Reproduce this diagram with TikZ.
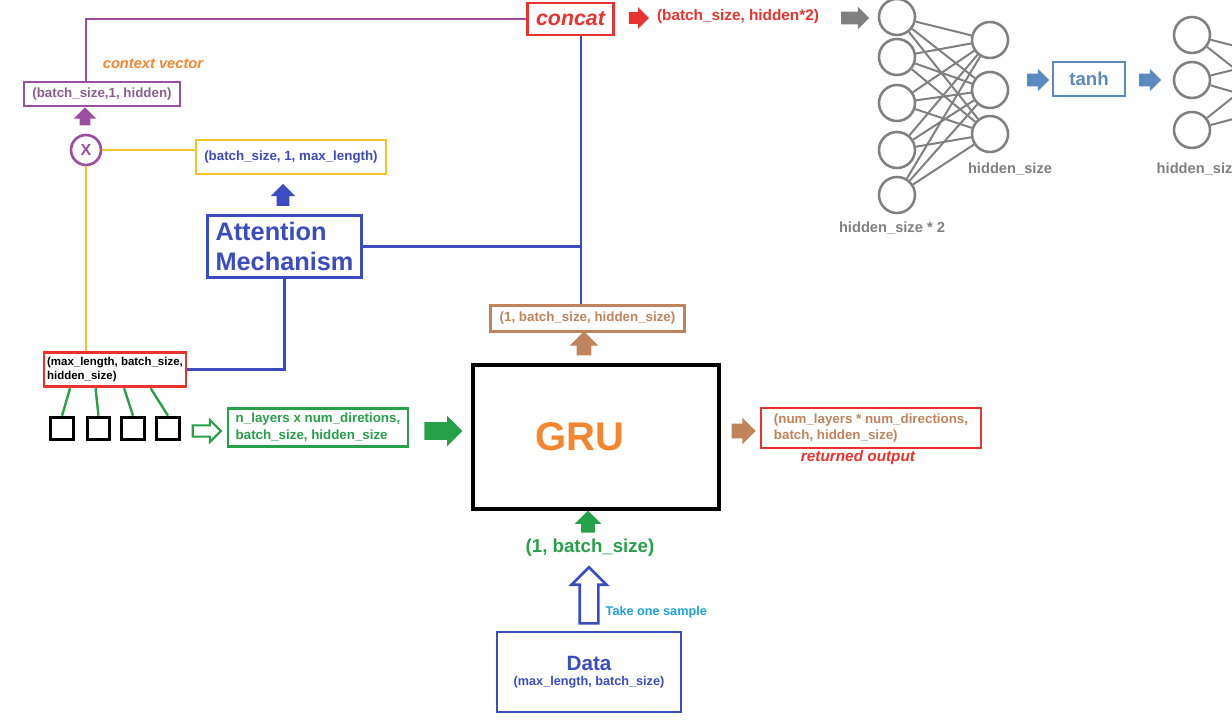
\documentclass[tikz,border=0pt]{standalone}
\usepackage{fontspec}
\setmainfont{Liberation Sans}
\usetikzlibrary{positioning,shapes.arrows,calc}

\definecolor{red1}{HTML}{E8332E}
\definecolor{purp}{HTML}{9C4F9F}
\definecolor{purptxt}{HTML}{8B5E8F}
\definecolor{gold}{HTML}{F5C22A}
\definecolor{blu}{HTML}{3B4CC0}
\definecolor{grn}{HTML}{27A04A}
\definecolor{brn}{HTML}{C0845C}
\definecolor{org}{HTML}{F5862E}
\definecolor{netgray}{HTML}{808080}
\definecolor{steel}{HTML}{5B8AC0}
\definecolor{sky}{HTML}{1EA0E0}

\begin{document}
\begin{tikzpicture}[x=0.75pt, y=-0.75pt,
    box/.style={draw=#1, line width=2.2pt, fill=white, inner sep=0pt},
    lbl/.style={text=#1, font=\bfseries\fontsize{10}{12}\selectfont},
    ar/.style n args={4}{single arrow, draw=none, fill=#1, inner sep=#3,
        minimum height=#2, single arrow head extend=#4},
    neu/.style={circle, draw=netgray, line width=1.9pt, minimum size=27pt, inner sep=0pt},
    wire/.style={draw=#1, line width=1.8pt},
    syn/.style={draw=netgray, line width=1.5pt}]

    \path[use as bounding box, fill=white] (0,0) rectangle (1232,720);
    \clip (0,0) rectangle (1232,720);

    % top row
    \node[box=red1, minimum width=65pt, minimum height=24pt, text=red1,
        font=\bfseries\itshape\fontsize{16}{18}\selectfont] (concat) at (570.5,19) {concat};
    \node[ar={red1}{15pt}{4.25pt}{3.75pt}] (a1) at (636,18) {};
    \node[lbl=red1, font=\bfseries\fontsize{11.5}{13}\selectfont] (h2) at (738,17) {(batch\_size, hidden*2)};
    \node[ar={netgray}{21pt}{4.5pt}{3.75pt}] (a2) at (852,18) {};

    % network
    \foreach \y [count=\i] in {17,57,103,150,195}
        \node[neu] (p\i) at (897,\y) {};
    \foreach \y [count=\i] in {40,90,134}
        \node[neu] (q\i) at (990,\y) {};
    \foreach \i in {1,...,5}
        \foreach \j in {1,2,3}
            \draw[syn] (p\i) -- (q\j);
    \node[lbl=netgray, font=\bfseries\fontsize{11}{13}\selectfont] (nq) at (1010,169) {hidden\_size};
    \node[lbl=netgray, font=\bfseries\fontsize{11}{13}\selectfont] (np) at (892,228) {hidden\_size * 2};

    \node[ar={steel}{16.5pt}{4.5pt}{3.75pt}] (a3) at (1035,80) {};
    \node[box=steel, minimum width=54pt, minimum height=25.5pt, text=steel,
        font=\bfseries\fontsize{14}{16}\selectfont] (tanh) at (1089,79) {tanh};
    \node[ar={steel}{16.5pt}{4.5pt}{3.75pt}] (a4) at (1147,80) {};

    \foreach \y [count=\i] in {35,80,130}
        \node[neu] (r\i) at (1192,\y) {};
    \coordinate (s1) at (1282,58);
    \coordinate (s2) at (1282,106);
    \foreach \i in {1,2,3}
        \foreach \j in {1,2}
            \draw[syn] (r\i) -- (s\j);
    \node[lbl=netgray, font=\bfseries\fontsize{11}{13}\selectfont, anchor=west] (nr) at (1152,169) {hidden\_size};

    % context / attention
    \node[box=purp, minimum width=117pt, minimum height=18pt, lbl=purptxt] (cv) at (102,94) {(batch\_size,1, hidden)};
    \node[text=org, font=\bfseries\itshape\fontsize{11}{13}\selectfont] (cvt) at (153,64) {context vector};
    \node[ar={purp}{13.5pt}{3.75pt}{4.5pt}, shape border rotate=90] (a5) at (85,119) {};
    \node[circle, draw=purp, line width=2pt, minimum size=22.5pt, inner sep=0pt, text=purp,
        font=\bfseries\fontsize{12}{12}\selectfont] (mul) at (86,150) {X};
    \node[box=gold, minimum width=142.5pt, minimum height=25.5pt, lbl=blu] (yb) at (291,157) {(batch\_size, 1, max\_length)};
    \node[ar={blu}{16.5pt}{4.5pt}{4.5pt}, shape border rotate=90] (a6) at (283,198) {};
    \node[box=blu, minimum width=116pt, minimum height=47pt, text=blu, align=left,
        font=\bfseries\fontsize{19}{23}\selectfont] (att) at (284.5,246.5) {Attention\\Mechanism};

    % encoder outputs
    \node[box=red1, minimum width=106.5pt, minimum height=26pt, align=left, text=black,
        font=\bfseries\fontsize{8.6}{11}\selectfont] (mlb) at (115,369.5) {(max\_length, batch\_size,\\hidden\_size)};
    \foreach \x [count=\i] in {62,98.5,133,168}
        \node[draw=black, line width=2.2pt, minimum size=17pt, inner sep=0pt] (sq\i) at (\x,428.5) {};
    \foreach \f [count=\i] in {0.19,0.366,0.563,0.746}
        \draw[wire=grn] ($(mlb.south west)!\f!(mlb.south east)$) -- (sq\i.north);
    \node[ar={white}{21pt}{3.4pt}{4pt}, draw=grn, line width=1.6pt] (a7) at (204,431) {};
    \node[box=grn, minimum width=135pt, minimum height=29pt, lbl=grn, align=left,
        font=\bfseries\fontsize{10}{12.5}\selectfont] (nl) at (318,427.5) {n\_layers x num\_diretions,\\batch\_size, hidden\_size};
    \node[ar={grn}{28.5pt}{6.4pt}{4.9pt}] (a8) at (439,431) {};

    % GRU
    \node[draw=black, line width=2.4pt, minimum width=184.5pt, minimum height=108pt] (gru) at (596,437) {};
    \node[text=org, font=\bfseries\fontsize{30}{32}\selectfont, xshift=-12pt] (grut) at (gru.center) {GRU};
    \node[box=brn, minimum width=146pt, minimum height=20pt, lbl=brn] (hs) at (587.5,318.5) {(1, batch\_size, hidden\_size)};
    \node[ar={brn}{18pt}{5.25pt}{5.25pt}, shape border rotate=90] (a9) at (584,347) {};
    \node[ar={brn}{18pt}{5.25pt}{4.5pt}] (a10) at (740,431) {};
    \node[box=red1, minimum width=165pt, minimum height=30pt, lbl=brn, align=left,
        font=\bfseries\fontsize{10}{12.5}\selectfont] (out) at (871,428) {(num\_layers * num\_directions,\\batch, hidden\_size)};
    \node[text=red1, font=\bfseries\itshape\fontsize{11.5}{13}\selectfont] (outt) at (858,458) {returned output};

    % input
    \node[ar={grn}{16.5pt}{4.9pt}{4.9pt}, shape border rotate=90] (a11) at (588,525) {};
    \node[text=grn, font=\bfseries\fontsize{14}{16}\selectfont] (bs) at (590,548) {(1, batch\_size)};
    \node[ar={white}{42pt}{6pt}{6pt}, draw=blu, line width=2pt, shape border rotate=90] (a12) at (589,600) {};
    \node[text=sky, font=\bfseries\fontsize{9.5}{11}\selectfont, anchor=west] (tk) at (601,612) {Take one sample};
    \node[box=blu, minimum width=138pt, minimum height=60pt, text=blu, align=center] (data) at (589,672)
        {{\bfseries\fontsize{15.5}{18}\selectfont Data}\\[-1pt]{\bfseries\fontsize{9.5}{11}\selectfont (max\_length, batch\_size)}};

    % wires
    \draw[wire=purp] (concat.west) -| (cv.north -| mul);
    \draw[wire=gold] (mul.east) -- (mul -| yb.west);
    \draw[wire=gold] (mul.south) -- (mul |- mlb.north);
    \coordinate (j) at (581,243);
    \draw[wire=blu] (concat.south -| j) -- (hs.north -| j);
    \draw[wire=blu] (att.east) -- (att.east -| j);
    \draw[wire=blu] (att.south) |- (mlb.east);
\end{tikzpicture}
\end{document}
